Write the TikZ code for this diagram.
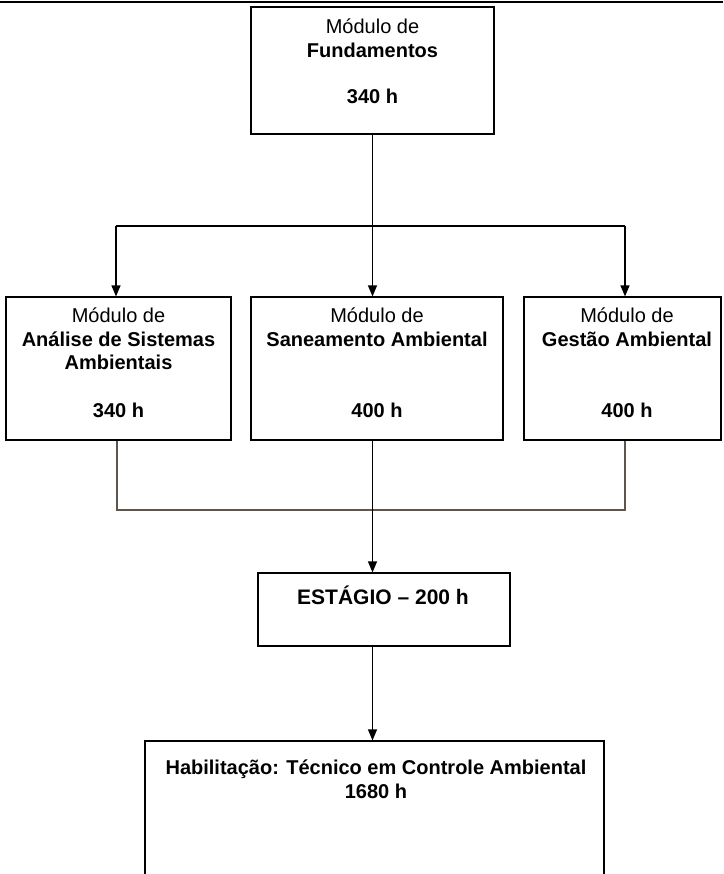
\documentclass[tikz,border=0pt]{standalone}
\usepackage{fontspec}
\setmainfont{Liberation Sans}
\usetikzlibrary{arrows.meta}
\definecolor{brn}{RGB}{95,85,75}
\begin{document}
\begin{tikzpicture}[x=1pt,y=-1pt,
  box/.style={draw=black,line width=1.2pt,inner sep=0pt,fill=white},
  txt/.style={inner sep=0pt,align=center,font=\fontsize{20}{24}\selectfont},
  con/.style={line width=1.2pt,draw=black},
  arr/.style={con,-{Triangle[length=11pt,width=9pt]}}]
\useasboundingbox (0,0) rectangle (723,874);
\clip (0,0) rectangle (723,874);
% top rule
\draw[line width=1.5pt] (0,2) -- (723,2);
% boxes
\node[box,minimum width=243pt,minimum height=127pt] (fund) at (372.5,70.5) {};
\node[box,minimum width=225pt,minimum height=143pt] (ana) at (118.5,368.5) {};
\node[box,minimum width=252pt,minimum height=143pt] (san) at (377,368.5) {};
\node[box,minimum width=197pt,minimum height=143pt] (ges) at (622.5,368.5) {};
\node[box,minimum width=252pt,minimum height=73pt] (est) at (384,609.5) {};
\node[box,minimum width=459pt,minimum height=200pt] (hab) at (374.5,841) {};
% texts
\node[txt] (t1) at (372.5,26) {Módulo de};
\node[txt,font=\fontsize{20}{24}\selectfont\bfseries] (t2) at (372.5,50) {Fundamentos};
\node[txt,font=\fontsize{20}{24}\selectfont\bfseries] (t3) at (372.5,96) {340 h};
\node[txt] (a1) at (118.5,315) {Módulo de};
\node[txt,font=\fontsize{20}{24}\selectfont\bfseries] (a2) at (118.5,339) {Análise de Sistemas};
\node[txt,font=\fontsize{20}{24}\selectfont\bfseries] (a3) at (118.5,362) {Ambientais};
\node[txt,font=\fontsize{20}{24}\selectfont\bfseries] (a4) at (118.5,410) {340 h};
\node[txt] (s1) at (377,315) {Módulo de};
\node[txt,font=\fontsize{20}{24}\selectfont\bfseries] (s2) at (377,339) {Saneamento Ambiental};
\node[txt,font=\fontsize{20}{24}\selectfont\bfseries] (s4) at (377,410) {400 h};
\node[txt] (g1) at (627,315) {Módulo de};
\node[txt,font=\fontsize{20}{24}\selectfont\bfseries] (g2) at (627,339) {Gestão Ambiental};
\node[txt,font=\fontsize{20}{24}\selectfont\bfseries] (g4) at (627,410) {400 h};
\node[txt,font=\fontsize{21}{25}\selectfont\bfseries] (e1) at (383,595) {ESTÁGIO – 200 h};
\node[txt,font=\fontsize{20}{22}\selectfont\bfseries] (h1) at (376,769) {Habilitação: Técnico em Controle Ambiental};
\node[txt,font=\fontsize{20}{22}\selectfont\bfseries] (h2) at (376,791) {1680 h};
% connectors
\coordinate (jl) at (116,226);
\coordinate (jr) at (625,226);
\coordinate (bl) at (117,510);
\coordinate (br) at (625,510);
\draw[arr] (fund.south) -- (fund.south |- san.north);
\draw[con] (jl) -- (jr);
\draw[arr] (jl) -- (jl |- ana.north);
\draw[arr] (jr) -- (jr |- ges.north);
\draw[con,draw=brn] (bl |- ana.south) -- (bl) -- (br) -- (br |- ges.south);
\draw[arr] (fund.south |- san.south) -- (fund.south |- est.north);
\draw[arr] (fund.south |- est.south) -- (fund.south |- hab.north);
\end{tikzpicture}
\end{document}
